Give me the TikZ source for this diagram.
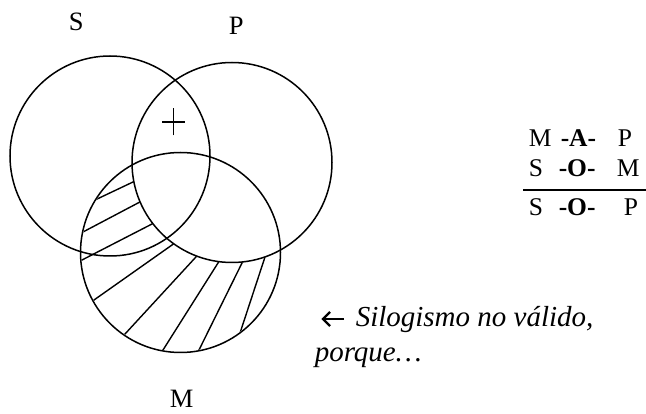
\documentclass[tikz,border=0pt]{standalone}
\usepackage{fontspec}
\setmainfont{Liberation Serif}
\usetikzlibrary{calc}
\begin{document}
\begin{tikzpicture}[x=1pt,y=-1pt,line width=1.5pt,
  txt/.style={anchor=base west,inner sep=0pt,font=\fontsize{25.5}{30}\selectfont},
  lbl/.style={anchor=base west,inner sep=0pt,font=\fontsize{26.5}{30}\selectfont},
  note/.style={anchor=base west,inner sep=0pt,font=\fontsize{29}{34}\selectfont\itshape},
  hatch/.style={line width=1.4pt}]
\useasboundingbox (0,0) rectangle (646,414);
% circles
\coordinate (cS) at (110,156);
\coordinate (cP) at (232,162.5);
\coordinate (cM) at (180.5,252.5);
\draw (cS) circle[radius=100pt];
\draw (cP) circle[radius=100pt];
\draw (cM) circle[radius=100pt];
% hatching: M outside P
\begin{scope}
  \clip (cM) circle[radius=99pt];
  \begin{scope}[even odd rule]
  \clip (-20,-20) rectangle (700,450) (cP) circle[radius=100.5pt];
  \foreach \ax/\ay/\bx/\by in {95/200/133/182, 83/232/138/203, 82/260/152/224, 94/300/172/245,
      125/334/195/258, 163/350/218/263, 199/350/242/263, 241/330/265/257}{
    \draw[hatch] ($(\ax,\ay)!-0.2!(\bx,\by)$) -- ($(\bx,\by)!-0.2!(\ax,\ay)$);
  }
  \end{scope}
\end{scope}
% plus
\coordinate (pl) at (173.5,122);
\draw[line width=1.3pt] ([xshift=-11.5pt]pl) -- ([xshift=11.5pt]pl);
\draw[line width=1.3pt] ([yshift=-13.5pt]pl) -- ([yshift=13.5pt]pl);
% labels
\node[lbl] (lS) at (68,31) {S};
\node[lbl] (lP) at (228,35) {P};
\node[lbl] (lM) at (169,407) {M};
% syllogism
\node[txt] (r1a) at (528,147) {M};
\node[txt] (r1b) at (560,147) {\textbf{-A-}};
\node[txt] (r1c) at (617,147) {P};
\node[txt] (r2a) at (528,177) {S};
\node[txt] (r2b) at (558,177) {\textbf{-O-}};
\node[txt] (r2c) at (616,177) {M};
\node[txt] (r3a) at (528,216) {S};
\node[txt] (r3b) at (558,216) {\textbf{-O-}};
\node[txt] (r3c) at (623,216) {P};
\draw[line width=1.2pt] (523,190) -- (646,190);
% arrow
\coordinate (at) at (323,319);
\coordinate (ae) at (344,319);
\draw[line width=2.2pt] (ae) -- (at);
\draw[line width=2.2pt,line join=miter] ([shift={(7,-7)}]at) -- (at) -- ([shift={(7,7)}]at);
% note
\node[note] (n1) at (355,327) {Silogismo no válido,};
\node[note] (n2) at (314,362) {porque…};
\end{tikzpicture}
\end{document}
